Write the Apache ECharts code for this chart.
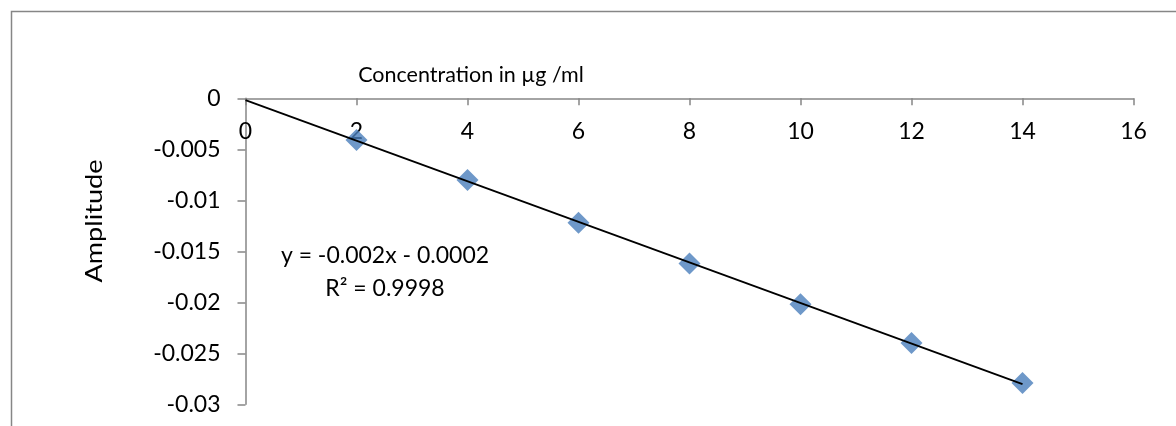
<!DOCTYPE html>
<html>
<head>
<meta charset="utf-8">
<script src="https://cdn.jsdelivr.net/npm/echarts@6/dist/echarts.min.js"></script>
<style>
html,body{margin:0;padding:0;background:#fff;}
#c{width:1176px;height:426px;}
</style>
</head>
<body>
<div id="c"></div>
<script>
// Data
var concentrations = [2, 4, 6, 8, 10, 12, 14];
var amplitudes = [-0.0041, -0.0080, -0.0122, -0.0162, -0.0202, -0.0240, -0.0279];
var xTicks = { min: 0, max: 16, interval: 2 };
var yTicks = { min: -0.03, max: 0, interval: 0.005 };
var xTitle = 'Concentration in µg /ml';
var yTitle = 'Amplitude';
var equationText = 'y = -0.002x - 0.0002';
var r2Text = 'R² = 0.9998';

// least squares trendline from the data, drawn from x = 0 to last x
var n = concentrations.length;
var mx = concentrations.reduce(function(a,b){return a+b;},0)/n;
var my = amplitudes.reduce(function(a,b){return a+b;},0)/n;
var sxy = 0, sxx = 0;
for (var i = 0; i < n; i++) { sxy += (concentrations[i]-mx)*(amplitudes[i]-my); sxx += (concentrations[i]-mx)*(concentrations[i]-mx); }
var slope = sxy/sxx, intercept = my - slope*mx;
var xEnd = concentrations[n-1];
var trend = [[0, intercept], [xEnd, intercept + slope*xEnd]];

var FONT = 'Lato';
var FS = 23;
var axisColor = '#868686';
var chart = echarts.init(document.getElementById('c'), null, {renderer: 'canvas'});
chart.setOption({
  animation: false,
  backgroundColor: '#fff',
  grid: { left: 245.5, right: 42.5, top: 98.3, bottom: 21.7, containLabel: false },
  xAxis: {
    type: 'value', position: 'top', min: xTicks.min, max: xTicks.max, interval: xTicks.interval,
    axisLine: { show: true, onZero: false, lineStyle: { color: axisColor, width: 1.5 } },
    axisTick: { show: true, inside: true, length: 7, lineStyle: { color: axisColor, width: 1.5 } },
    axisLabel: { inside: true, margin: 22, color: '#000', fontFamily: FONT, fontSize: FS },
    splitLine: { show: false }
  },
  yAxis: {
    type: 'value', min: yTicks.min, max: yTicks.max, interval: yTicks.interval,
    axisLine: { show: true, onZero: false, lineStyle: { color: axisColor, width: 1.5 } },
    axisTick: { show: true, inside: false, length: 8, lineStyle: { color: axisColor, width: 1.5 } },
    axisLabel: { margin: 25, color: '#000', fontFamily: FONT, fontSize: FS,
      formatter: function(v){ return String(parseFloat(v.toFixed(4))); } },
    splitLine: { show: false }
  },
  graphic: [
    { type: 'rect', z: -10, silent: true, shape: { x: 11.5, y: 11.5, width: 1300, height: 600 },
      style: { fill: 'none', stroke: axisColor, lineWidth: 1.5 } },
    { type: 'text', z: 10, style: { x: 471, y: 75, text: xTitle, textAlign: 'center', textVerticalAlign: 'middle',
      font: '21.5px ' + FONT, fill: '#000' } },
    { type: 'text', z: 10, x: 95, y: 221, rotation: Math.PI/2, scaleX: 1.18, style: { x: 0, y: 0, text: yTitle, textAlign: 'center', textVerticalAlign: 'middle',
      font: FS + 'px ' + FONT, fill: '#000' } },
    { type: 'text', z: 10, style: { x: 385, y: 256, text: equationText, textAlign: 'center', textVerticalAlign: 'middle',
      font: FS + 'px ' + FONT, fill: '#000' } },
    { type: 'text', z: 10, style: { x: 385, y: 289, text: r2Text, textAlign: 'center', textVerticalAlign: 'middle',
      font: FS + 'px ' + FONT, fill: '#000' } }
  ],
  series: [
    { type: 'scatter', data: concentrations.map(function(x,i){return [x, amplitudes[i]];}),
      symbol: 'diamond', symbolSize: 22, itemStyle: { color: '#4a7ebb' }, z: 2 },
    { type: 'line', data: trend, symbol: 'none', lineStyle: { color: '#000', width: 1.8 }, z: 3 }
  ]
});
</script>
</body>
</html>
